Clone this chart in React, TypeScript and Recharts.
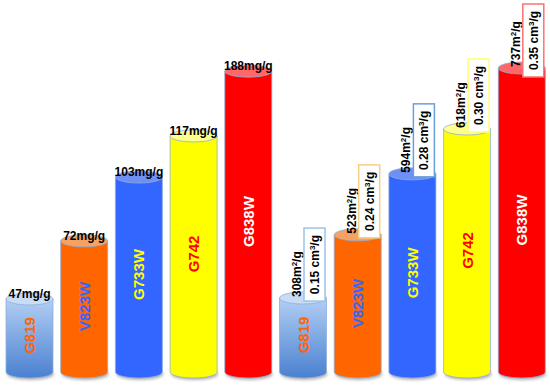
import { BarChart, Bar, XAxis, YAxis } from "recharts";

// samples, same order in both groups
const samples = ["G819", "V823W", "G733W", "G742", "G838W"];
// group 1: adsorption capacity (mg/g)
const adsorption = [47, 72, 103, 117, 188];
// group 2: BET surface area (m2/g) and pore volume (cm3/g)
const surfaceArea = [308, 523, 594, 618, 737];
const poreVolume = ["0.15", "0.24", "0.28", "0.30", "0.35"];
// drawn cylinder heights (% of tallest)
const adsorptionHeight = [26.9, 45.3, 65.5, 78.5, 99];
const surfaceHeight = [27.2, 47.2, 66.5, 80.7, 100];

const bodyColors = ["url(#g819Fill)", "#ff6600", "#3366ff", "#ffff00", "#ff0000"];
const topColors = ["#c8dcf6", "#f5a262", "#6f8ff5", "#ffff8c", "#ff6868"];
const nameColors = ["#ff6600", "#3366ff", "#ffff00", "#ff0000", "#ffffff"];
const boxColors = ["#9cc3e8", "#f8cf86", "#6b9fdc", "#ffff70", "#ff7070"];
const edge = "#8eaedb";
const font = "'Liberation Sans', Arial, sans-serif";

const data = [
  ...samples.map((s, i) => ({ key: `a${i}`, sample: s, idx: i, group: "a", h: adsorptionHeight[i], value: adsorption[i] })),
  ...samples.map((s, i) => ({ key: `b${i}`, sample: s, idx: i, group: "b", h: surfaceHeight[i], value: surfaceArea[i], pore: poreVolume[i] })),
];

function Cylinder(props: any) {
  const { x, y, width, height, payload } = props;
  const i = payload.idx;
  const rx = width / 2;
  const ry = 6;
  const cx = x + rx;
  const top = y + ry;
  const bottom = y + height - ry;
  const body = `M${x},${top} L${x},${bottom} A${rx},${ry} 0 0 0 ${x + width},${bottom} L${x + width},${top} Z`;
  // pore volume box sits just above the cylinder top, kept inside the picture
  const boxY = Math.max(y - 64, 4);
  return (
    <g>
      <ellipse cx={cx + 1} cy={bottom + 2} rx={rx} ry={ry} fill="#000" opacity={0.3} filter="url(#cylShadow)" />
      <path d={body} fill={bodyColors[i]} stroke={edge} strokeWidth={0.8} />
      <ellipse cx={cx} cy={top} rx={rx} ry={ry} fill={topColors[i]} stroke={edge} strokeWidth={0.8} />
      <text
        transform={`translate(${cx},${y + height / 2}) rotate(-90)`}
        textAnchor="middle"
        dominantBaseline="central"
        fill={nameColors[i]}
        fontSize={15}
        fontWeight="bold"
        fontFamily={font}
      >
        {payload.sample}
      </text>
      {payload.group === "a" ? (
        <text x={cx} y={y + 5} textAnchor="middle" fontSize={12} fontWeight="bold" fontFamily={font} fill="#000">
          {`${payload.value}mg/g`}
        </text>
      ) : (
        <g>
          <text transform={`translate(${cx - 2},${y + 5}) rotate(-90)`} fontSize={12} fontWeight="bold" fontFamily={font} fill="#000">
            {`${payload.value}m`}
            <tspan dy={-4} fontSize={8}>2</tspan>
            <tspan dy={4}>/g</tspan>
          </text>
          <rect x={cx + 1} y={boxY} width={21} height={73} fill="#fff" stroke={boxColors[i]} strokeWidth={1.5} />
          <text transform={`translate(${cx + 16},${boxY + 36.5}) rotate(-90)`} textAnchor="middle" fontSize={12} fontWeight="bold" fontFamily={font} fill="#000">
            {`${payload.pore} cm`}
            <tspan dy={-4} fontSize={8}>3</tspan>
            <tspan dy={4}>/g</tspan>
          </text>
        </g>
      )}
    </g>
  );
}

export default function App() {
  return (
    <div style={{ position: "absolute", left: 0, top: 0, width: 550, height: 387, background: "#fff" }}>
      <BarChart width={550} height={387} data={data} margin={{ top: 62, right: 1, bottom: 9, left: 2 }} barCategoryGap={4}>
        <defs>
          <linearGradient id="g819Fill" x1="0" y1="0" x2="0" y2="1">
            <stop offset="0%" stopColor="#b2cff4" />
            <stop offset="100%" stopColor="#4a80d0" />
          </linearGradient>
          <filter id="cylShadow" x="-20%" y="-50%" width="140%" height="200%">
            <feGaussianBlur stdDeviation="1.5" />
          </filter>
        </defs>
        <XAxis dataKey="key" hide />
        <YAxis hide domain={[0, 100]} />
        <Bar dataKey="h" shape={Cylinder} isAnimationActive={false} />
      </BarChart>
    </div>
  );
}
